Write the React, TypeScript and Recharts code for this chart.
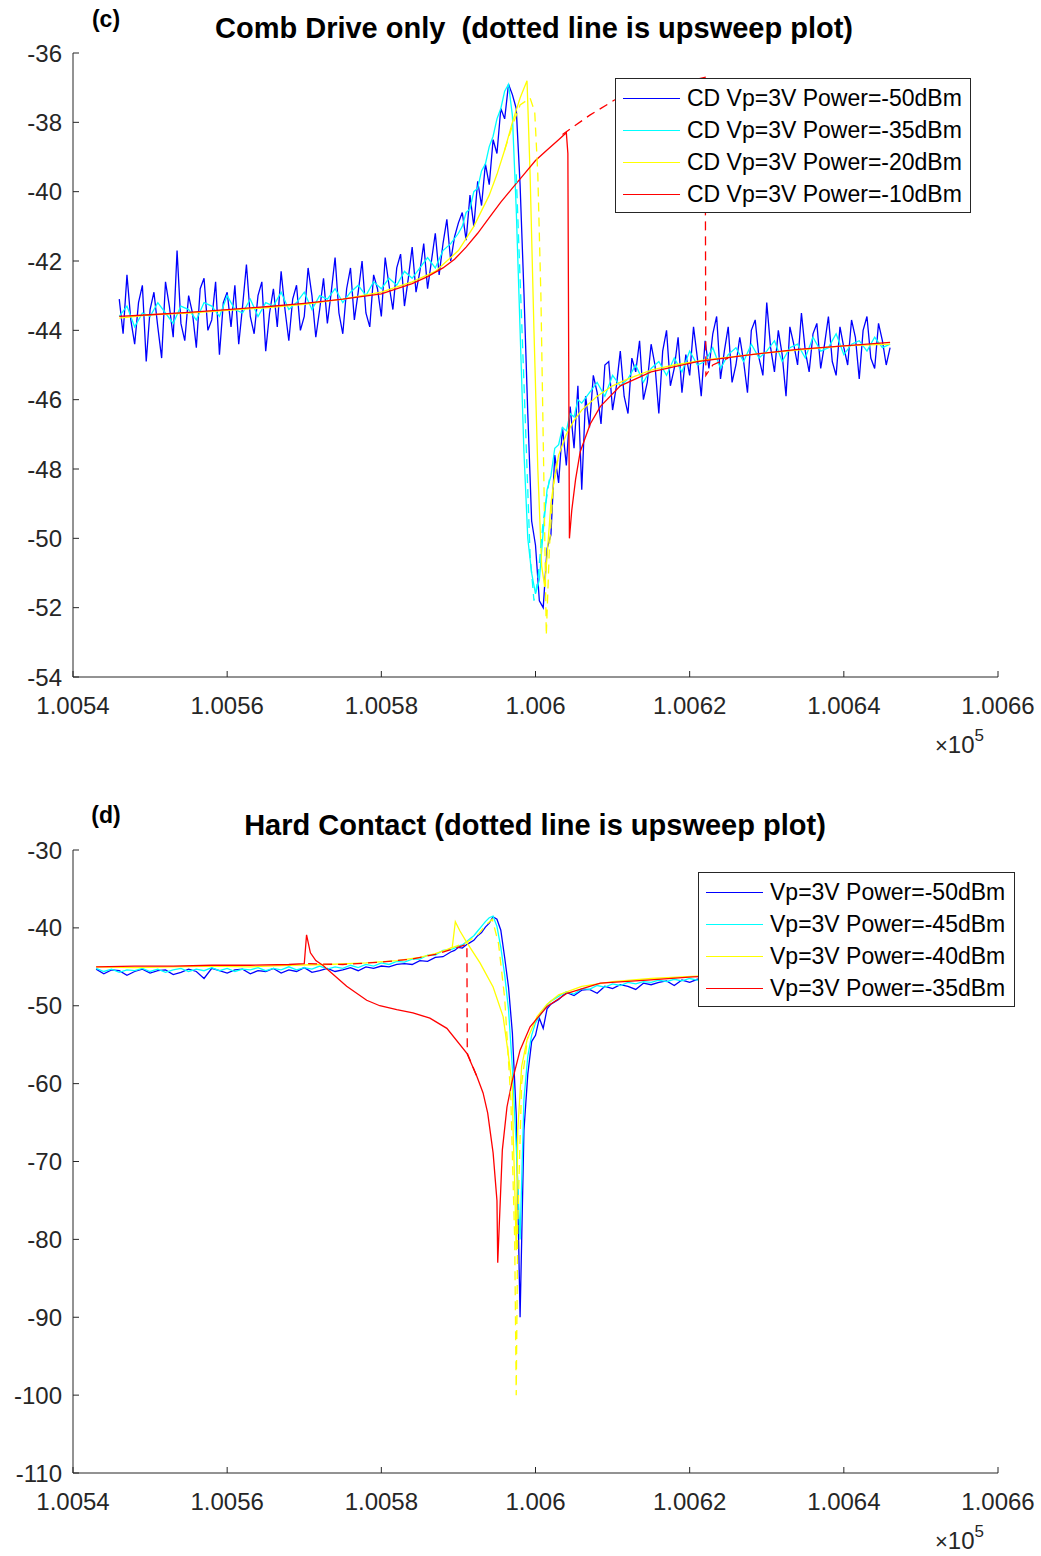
import { Legend, Line, LineChart, XAxis, YAxis } from "recharts";

const FONT = '"Liberation Sans", Arial, Helvetica, sans-serif';
const INK = "#262626";
const traceColors = ["#0000ff", "#00ffff", "#ffff00", "#ff0000"];

const xTicks = [1.0054, 1.0056, 1.0058, 1.006, 1.0062, 1.0064, 1.0066];
const xTickLabels = ["1.0054", "1.0056", "1.0058", "1.006", "1.0062", "1.0064", "1.0066"];
const combYTicks = [-54, -52, -50, -48, -46, -44, -42, -40, -38, -36];
const hardYTicks = [-110, -100, -90, -80, -70, -60, -50, -40, -30];

const combNames = [
  "CD Vp=3V Power=-50dBm",
  "CD Vp=3V Power=-35dBm",
  "CD Vp=3V Power=-20dBm",
  "CD Vp=3V Power=-10dBm",
];
const hardNames = [
  "Vp=3V Power=-50dBm",
  "Vp=3V Power=-45dBm",
  "Vp=3V Power=-40dBm",
  "Vp=3V Power=-35dBm",
];

// (c) comb drive, frequency in Hz (axis shows x 1e5)
const comb50Hz = [
  100546, 100546.5, 100547, 100547.5, 100548, 100548.5, 100549, 100549.5, 100550, 100550.5,
  100551, 100551.5, 100552, 100552.5, 100553, 100553.5, 100554, 100554.5, 100555, 100555.5,
  100556, 100556.5, 100557, 100557.5, 100558, 100558.5, 100559, 100559.5, 100560, 100560.5,
  100561, 100561.5, 100562, 100562.5, 100563, 100563.5, 100564, 100564.5, 100565, 100565.5,
  100566, 100566.5, 100567, 100567.5, 100568, 100568.5, 100569, 100569.5, 100570, 100570.5,
  100571, 100571.5, 100572, 100572.5, 100573, 100573.5, 100574, 100574.5, 100575, 100575.5,
  100576, 100576.5, 100577, 100577.5, 100578, 100578.5, 100579, 100579.5, 100580, 100580.5,
  100581, 100581.5, 100582, 100582.5, 100583, 100583.5, 100584, 100584.5, 100585, 100585.5,
  100586, 100586.5, 100587, 100587.5, 100588, 100588.5, 100589, 100589.5, 100590, 100590.5,
  100591, 100591.5, 100592, 100592.5, 100593, 100593.5, 100594, 100594.5, 100595, 100595.5,
  100596, 100596.5, 100597, 100597.5, 100598, 100598.5, 100599, 100599.5, 100600, 100600.5,
  100601, 100601.5, 100602, 100602.5, 100603, 100603.5, 100604, 100604.5, 100605, 100605.5,
  100606, 100606.5, 100607, 100607.5, 100608, 100608.5, 100609, 100609.5, 100610, 100610.5,
  100611, 100611.5, 100612, 100612.5, 100613, 100613.5, 100614, 100614.5, 100615, 100615.5,
  100616, 100616.5, 100617, 100617.5, 100618, 100618.5, 100619, 100619.5, 100620, 100620.5,
  100621, 100621.5, 100622, 100622.5, 100623, 100623.5, 100624, 100624.5, 100625, 100625.5,
  100626, 100626.5, 100627, 100627.5, 100628, 100628.5, 100629, 100629.5, 100630, 100630.5,
  100631, 100631.5, 100632, 100632.5, 100633, 100633.5, 100634, 100634.5, 100635, 100635.5,
  100636, 100636.5, 100637, 100637.5, 100638, 100638.5, 100639, 100639.5, 100640, 100640.5,
  100641, 100641.5, 100642, 100642.5, 100643, 100643.5, 100644, 100644.5, 100645, 100645.5,
  100646,
];
const comb50 = [
  -43.1, -44.1, -42.4, -43.7, -44.4, -43.2, -42.7, -44.9, -43.4, -42.9,
  -43.9, -44.8, -42.6, -43.3, -44.2, -41.7, -43.8, -44.3, -43.0, -43.5,
  -44.5, -42.8, -42.5, -44.0, -43.7, -42.6, -44.7, -43.2, -42.9, -43.9,
  -42.7, -44.4, -43.3, -42.1, -43.6, -44.1, -43.0, -42.6, -44.6, -43.5,
  -42.8, -43.9, -42.3, -43.4, -44.3, -43.1, -42.7, -44.0, -43.6, -42.2,
  -43.0, -44.2, -43.4, -42.5, -43.8, -42.9, -41.9, -43.5, -44.1, -42.8,
  -42.2, -43.7, -42.9, -42.0, -43.5, -43.9, -42.4, -42.8, -43.6, -41.9,
  -42.7, -43.4, -42.2, -41.8, -43.3, -42.5, -41.6, -42.9, -42.3, -41.5,
  -42.8, -42.0, -41.2, -42.4, -41.5, -40.8, -42.0, -41.3, -40.9, -40.6,
  -41.4, -40.1, -41.0, -39.7, -40.4, -39.2, -39.8, -38.5, -38.9, -37.6,
  -37.9, -36.9, -37.2, -37.6, -39.8, -42.9, -46.4, -49.5, -50.2, -51.8,
  -52.0, -50.3, -49.9, -47.6, -48.4, -46.8, -47.9, -46.2, -47.4, -45.6,
  -48.6, -45.9, -46.8, -45.3, -45.8, -46.7, -45.0, -44.9, -46.3, -45.6,
  -44.6, -45.9, -46.4, -44.8, -45.2, -44.3, -46.0, -45.5, -44.4, -45.0,
  -46.4, -44.6, -44.0, -45.6, -45.1, -44.2, -45.8, -44.7, -45.3, -43.9,
  -44.8, -45.9, -44.3, -45.1, -44.1, -43.6, -45.4, -44.6, -43.9, -45.5,
  -45.0, -44.2, -44.9, -45.8, -44.0, -43.7, -44.8, -45.3, -43.2, -44.5,
  -45.2, -44.0, -44.7, -45.9, -43.9, -44.4, -45.0, -43.5, -44.6, -45.2,
  -44.1, -43.8, -45.1, -44.4, -43.6, -44.9, -45.3, -43.9, -44.5, -45.0,
  -43.7, -44.2, -45.4, -44.0, -43.6, -44.8, -45.1, -43.8, -44.3, -45.0,
  -44.5,
];
const comb35Hz = [
  100546, 100547, 100548, 100549, 100550, 100551, 100552, 100553, 100554, 100555,
  100556, 100557, 100558, 100559, 100560, 100561, 100562, 100563, 100564, 100565,
  100566, 100567, 100568, 100569, 100570, 100571, 100572, 100573, 100574, 100575,
  100576, 100577, 100578, 100579, 100580, 100581, 100582, 100583, 100584, 100585,
  100586, 100587, 100588, 100589, 100590,
  100590.5, 100591, 100591.5, 100592, 100592.5, 100593, 100593.5, 100594, 100594.5, 100595,
  100595.5, 100596, 100596.5, 100597, 100597.5, 100598, 100598.5, 100599, 100599.5, 100600,
  100600.5, 100601, 100601.5, 100602, 100602.5, 100603, 100603.5, 100604, 100604.5, 100605,
  100605.5, 100606,
  100607, 100608, 100609, 100610, 100611, 100612, 100613, 100614, 100615, 100616,
  100617, 100618, 100619, 100620, 100621, 100622, 100623, 100624, 100625, 100626,
  100627, 100628, 100629, 100630, 100631, 100632, 100633, 100634, 100635, 100636,
  100637, 100638, 100639, 100640, 100641, 100642, 100643, 100644, 100645, 100646,
];
const comb35 = [
  -43.6, -43.3, -43.9, -43.5, -43.6, -43.2, -43.5, -43.8, -43.3, -43.4,
  -43.7, -43.2, -43.3, -43.6, -43.0, -43.4, -43.5, -43.1, -43.6, -43.2,
  -43.3, -42.9, -43.4, -43.2, -42.9, -43.4, -43.0, -43.1, -42.8, -43.2,
  -42.9, -42.7, -43.0, -42.6, -42.8, -42.5, -42.7, -42.3, -42.5, -42.2,
  -41.9, -42.2, -41.7, -41.5, -41.2,
  -41.0, -40.6, -40.5, -40.0, -39.9, -39.4, -39.2, -38.7, -38.4, -37.9,
  -37.6, -37.1, -36.9, -37.8, -40.5, -44.0, -47.5, -50.0, -51.0, -51.6,
  -51.2, -49.8, -48.6, -48.2, -47.4, -47.3, -46.8, -46.9, -46.4, -46.5,
  -46.0, -46.1,
  -45.8, -45.5, -45.9, -45.3, -45.6, -45.4, -45.0, -45.5, -45.1, -44.9,
  -45.3, -44.8, -45.2, -44.6, -45.0, -44.9, -44.5, -45.1, -44.7, -44.5,
  -44.9, -44.4, -44.8, -44.6, -44.3, -44.9, -44.5, -44.4, -44.8, -44.2,
  -44.6, -44.5, -44.1, -44.7, -44.4, -44.3, -44.6, -44.2, -44.5, -44.4,
];
const comb20Hz = [
  100546, 100550, 100555, 100560, 100565, 100570, 100575, 100580, 100584, 100587,
  100590, 100592, 100594, 100595, 100596, 100597, 100598, 100598.9, 100599.3, 100599.8,
  100600.3, 100600.8, 100601.2, 100601.6, 100602, 100602.5, 100603, 100604, 100605, 100606,
  100608, 100610, 100612, 100615, 100618, 100622, 100626, 100630, 100635, 100640, 100646,
];
const comb20 = [
  -43.65, -43.55, -43.5, -43.42, -43.35, -43.25, -43.1, -42.9, -42.6, -42.3,
  -41.7, -41.0, -40.1, -39.5, -38.8, -38.0, -37.3, -36.8, -39.5, -44.0,
  -48.0, -50.8, -51.4, -50.2, -49.0, -48.2, -47.6, -47.0, -46.6, -46.3,
  -45.9, -45.6, -45.4, -45.15, -45.0, -44.85, -44.75, -44.65, -44.55, -44.45, -44.4,
];
const comb10Hz = [
  100546, 100550, 100555, 100560, 100565, 100570, 100575, 100580, 100584, 100586,
  100588, 100589.5, 100591, 100592.5, 100594, 100595.5, 100597, 100598.5, 100600, 100601.5,
  100603, 100604, 100604.2, 100604.4, 100604.7, 100605.2, 100605.8, 100607.1, 100608.4, 100611,
  100615, 100621, 100628, 100634, 100640, 100646,
];
const comb10 = [
  -43.6, -43.55, -43.48, -43.4, -43.32, -43.22, -43.1, -42.95, -42.65, -42.45,
  -42.2, -41.95, -41.6, -41.2, -40.75, -40.3, -39.9, -39.5, -39.1, -38.8,
  -38.5, -38.3, -38.9, -50.0, -49.2, -48.3, -47.5, -46.7, -46.2, -45.6,
  -45.2, -44.9, -44.7, -44.55, -44.45, -44.35,
];
// upsweep (dashed)
const comb35UpHz = [100597.5, 100598.5, 100599.3, 100599.8, 100600.3, 100601, 100601.8];
const comb35Up = [-39.5, -45.5, -50.5, -51.8, -51.2, -49.5, -48.3];
const comb20UpHz = [100596, 100597, 100598, 100599.3, 100599.9, 100600.3, 100600.7, 100601.1, 100601.4, 100601.8, 100602.3, 100603];
const comb20Up = [-38.8, -38.1, -37.5, -37.3, -37.7, -39.5, -43.0, -48.5, -52.8, -50.3, -48.5, -47.6];
const comb10UpHz = [100603.5, 100607, 100610.3, 100614, 100618, 100622, 100622.1, 100623, 100625];
const comb10Up = [-38.35, -37.8, -37.35, -37.1, -36.9, -36.7, -45.3, -45.0, -44.8];

// (d) hard contact
const hardHz = [
  100543, 100544, 100545, 100546, 100547, 100548, 100549, 100550, 100551, 100552,
  100553, 100554, 100555, 100556, 100557, 100558, 100559, 100560, 100561, 100562,
  100563, 100564, 100565, 100566, 100567, 100568, 100569, 100570, 100571, 100572,
  100573, 100574, 100575, 100576, 100577, 100578, 100579, 100580, 100581, 100582,
  100583, 100584, 100585, 100586, 100587, 100588, 100589,
  100589.5, 100590, 100590.5, 100591, 100591.5, 100592, 100592.5, 100593, 100593.5, 100594,
  100594.5, 100595, 100595.5, 100596, 100596.5, 100597, 100597.5, 100598, 100598.5, 100599,
  100599.5, 100600, 100600.5, 100601, 100601.5, 100602,
  100603, 100604, 100605, 100606, 100607, 100608, 100609, 100610, 100611, 100612,
  100613, 100614, 100615, 100616, 100617, 100618, 100619, 100620, 100621,
  100623, 100625, 100627, 100629, 100631, 100633, 100635, 100637, 100639, 100641, 100643, 100645,
];
const hard50 = [
  -45.3, -45.9, -45.4, -45.5, -46.1, -45.6, -45.3, -45.8, -45.5, -45.4,
  -46.0, -45.7, -45.3, -45.6, -46.5, -45.2, -45.5, -45.8, -45.4, -45.3,
  -45.9, -45.5, -45.6, -45.2, -45.8, -45.4, -45.6, -45.1, -45.7, -45.5,
  -45.2, -45.6, -45.4, -45.1, -45.5, -45.0, -45.2, -44.9, -45.0, -44.7,
  -44.6, -44.7, -44.2, -44.3, -43.8, -43.7, -43.1,
  -42.9, -42.5, -42.6, -42.2, -41.9, -41.6, -41.0, -40.6, -39.9, -39.4,
  -38.6, -38.9, -40.3, -43.8, -47.6, -53.5, -64.0, -90.0, -66.0, -58.8,
  -54.6, -53.8, -51.6, -52.9, -50.4, -49.8,
  -49.2, -48.3, -48.7, -48.0, -47.9, -48.4, -47.5, -47.8, -47.3, -47.5,
  -47.9, -47.1, -47.3, -47.0, -46.8, -47.4, -46.7, -47.0, -46.6,
  -46.6, -46.9, -46.4, -46.7, -46.3, -46.6, -46.2, -46.5, -46.1, -46.4, -46.0, -46.3,
];
const hard45 = [
  -45.2, -45.6, -45.3, -45.7, -45.4, -45.5, -45.2, -45.6, -45.3, -45.7,
  -45.4, -45.2, -45.6, -45.3, -45.5, -45.1, -45.5, -45.2, -45.6, -45.3,
  -45.4, -45.1, -45.5, -45.2, -45.4, -45.0, -45.4, -45.1, -45.3, -44.9,
  -45.3, -45.0, -45.2, -44.8, -45.1, -44.7, -44.9, -44.5, -44.7, -44.3,
  -44.4, -44.0, -44.0, -43.5, -43.5, -42.9, -42.8,
  -42.6, -42.3, -42.2, -41.8, -41.4, -41.0, -40.4, -39.8, -39.2, -38.7,
  -38.5, -39.8, -42.5, -46.0, -50.5, -58.0, -68.0, -80.0, -62.0, -56.5,
  -53.8, -52.2, -51.4, -50.6, -49.9, -49.4,
  -48.8, -48.2, -48.5, -47.8, -47.9, -47.4, -47.6, -47.2, -47.4, -47.0,
  -47.2, -46.9, -47.0, -46.7, -46.9, -46.6, -46.8, -46.5, -46.7,
  -46.5, -46.6, -46.3, -46.5, -46.2, -46.4, -46.1, -46.3, -46.0, -46.2, -45.9, -46.1,
];
const hard40Hz = [
  100543, 100548, 100553, 100558, 100563, 100568, 100573, 100578, 100582, 100585,
  100587, 100588.5, 100589.2, 100589.6, 100590.2, 100591.1, 100592.8, 100594.5, 100595.8, 100596.4,
  100597, 100597.1, 100597.3, 100597.5, 100597.7, 100598.2, 100598.9, 100600.2, 100601.5, 100603,
  100606, 100610, 100615, 100621, 100630, 100638, 100645,
];
const hard40 = [
  -45.0, -45.1, -45.0, -44.9, -45.0, -44.8, -44.7, -44.5, -44.2, -43.8,
  -43.3, -42.8, -42.5, -39.2, -40.4, -41.9, -44.5, -47.6, -51.4, -55.7,
  -60.4, -66.3, -72.8, -81.4, -66.0, -57.8, -54.4, -51.4, -49.8, -48.6,
  -47.5, -46.9, -46.5, -46.2, -46.0, -45.9, -45.8,
];
const hard35Hz = [
  100543, 100548, 100553, 100558, 100563, 100568, 100570, 100570.3, 100570.8, 100571.5,
  100572.4, 100575.5, 100578.1, 100579.8, 100582, 100584.1, 100586.3, 100588.5, 100591.1, 100592.4,
  100593.2, 100593.8, 100594.5, 100595, 100595.1, 100595.7, 100596.3, 100596.9, 100598, 100599.3,
  100601.5, 100604.1, 100608.4, 100614.5, 100620.4, 100628, 100636, 100645,
];
const hard35 = [
  -45.0, -44.9, -44.9, -44.8, -44.8, -44.7, -44.6, -40.9, -43.2, -44.2,
  -44.8, -47.5, -49.3, -50.0, -50.5, -50.9, -51.6, -52.9, -56.1, -59.1,
  -61.2, -63.8, -68.9, -75.0, -83.0, -68.5, -63.0, -60.0, -55.7, -52.7,
  -50.1, -48.4, -47.1, -46.7, -46.3, -46.0, -45.8, -45.6,
];
// upsweep (dashed)
const hard40UpHz = [100589, 100591, 100592.5, 100593.6, 100594.4, 100595.2, 100596, 100596.8, 100597.3, 100597.5, 100597.7, 100598.2, 100599];
const hard40Up = [-42.6, -41.9, -40.9, -39.6, -38.9, -42.0, -49.0, -62.0, -80.0, -100.0, -78.0, -60.0, -54.0];
const hard35UpHz = [100570.5, 100575, 100580, 100584, 100587, 100589, 100591.1, 100591.15, 100592.4];
const hard35Up = [-44.6, -44.7, -44.4, -44.0, -43.4, -42.8, -42.1, -56.1, -59.1];

const toPoints = (hz: number[], db: number[]) => hz.map((f, i) => ({ f: f / 1e5, db: db[i] }));

const fmtX = (v: number) => {
  const i = xTicks.findIndex((t) => Math.abs(t - v) < 1e-9);
  return i >= 0 ? xTickLabels[i] : String(v);
};

type Trace = { hz: number[]; db: number[]; color: string; dashed?: boolean };

const LegendBox = ({ names, width }: { names: string[]; width: number }) => (
  <div
    style={{
      boxSizing: "border-box",
      width,
      background: "#fff",
      border: `1px solid ${INK}`,
      padding: "3px 0 2px 7px",
      fontFamily: FONT,
      fontSize: 23,
      color: "#000",
    }}
  >
    {names.map((n, i) => (
      <div key={n} style={{ display: "flex", alignItems: "center", height: 32, whiteSpace: "nowrap" }}>
        <span style={{ width: 57, borderTop: `1.5px solid ${traceColors[i]}`, marginRight: 7 }} />
        <span>{n}</span>
      </div>
    ))}
  </div>
);

interface PanelProps {
  top: number;
  height: number;
  plotHeight: number;
  yTicks: number[];
  traces: Trace[];
  names: string[];
  legendLeft: number;
  legendTop: number;
  legendWidth: number;
}

const Panel = ({ top, height, plotHeight, yTicks, traces, names, legendLeft, legendTop, legendWidth }: PanelProps) => (
  <div style={{ position: "absolute", left: 0, top }}>
    <LineChart
      width={1041}
      height={height}
      margin={{ top: 53, right: 43, bottom: height - 53 - plotHeight - 40, left: 0 }}
    >
      <XAxis
        dataKey="f"
        type="number"
        domain={[xTicks[0], xTicks[xTicks.length - 1]]}
        ticks={xTicks}
        tickFormatter={fmtX}
        interval={0}
        allowDataOverflow
        height={40}
        tickSize={-6}
        tickMargin={26}
        stroke={INK}
        tick={{ fill: INK, fontSize: 24, fontFamily: FONT }}
      />
      <YAxis
        type="number"
        domain={[yTicks[0], yTicks[yTicks.length - 1]]}
        ticks={yTicks}
        interval={0}
        allowDataOverflow
        width={73}
        tickSize={-6}
        tickMargin={17}
        stroke={INK}
        tick={{ fill: INK, fontSize: 24, fontFamily: FONT }}
      />
      {traces.map((t, i) => (
        <Line
          key={i}
          data={toPoints(t.hz, t.db)}
          dataKey="db"
          type="linear"
          stroke={t.color}
          strokeWidth={1.3}
          strokeDasharray={t.dashed ? "9 6" : undefined}
          dot={false}
          activeDot={false}
          isAnimationActive={false}
        />
      ))}
      <Legend
        layout="vertical"
        align="center"
        verticalAlign="middle"
        wrapperStyle={{ left: legendLeft, top: legendTop, width: legendWidth }}
        content={() => <LegendBox names={names} width={legendWidth} />}
      />
    </LineChart>
  </div>
);

const combTraces: Trace[] = [
  { hz: comb50Hz, db: comb50, color: traceColors[0] },
  { hz: comb35Hz, db: comb35, color: traceColors[1] },
  { hz: comb20Hz, db: comb20, color: traceColors[2] },
  { hz: comb10Hz, db: comb10, color: traceColors[3] },
  { hz: comb35UpHz, db: comb35Up, color: traceColors[1], dashed: true },
  { hz: comb20UpHz, db: comb20Up, color: traceColors[2], dashed: true },
  { hz: comb10UpHz, db: comb10Up, color: traceColors[3], dashed: true },
];

const hardTraces: Trace[] = [
  { hz: hardHz, db: hard50, color: traceColors[0] },
  { hz: hardHz, db: hard45, color: traceColors[1] },
  { hz: hard40Hz, db: hard40, color: traceColors[2] },
  { hz: hard35Hz, db: hard35, color: traceColors[3] },
  { hz: hard40UpHz, db: hard40Up, color: traceColors[2], dashed: true },
  { hz: hard35UpHz, db: hard35Up, color: traceColors[3], dashed: true },
];

export default function App() {
  return (
    <div style={{ position: "absolute", left: 0, top: 0, width: 1041, height: 1556, background: "#fff", fontFamily: FONT }}>
      <Panel
        top={0}
        height={780}
        plotHeight={624}
        yTicks={combYTicks}
        traces={combTraces}
        names={combNames}
        legendLeft={615}
        legendTop={78}
        legendWidth={356}
      />
      <Panel
        top={797}
        height={759}
        plotHeight={623}
        yTicks={hardYTicks}
        traces={hardTraces}
        names={hardNames}
        legendLeft={698}
        legendTop={75}
        legendWidth={317}
      />
      <svg width={1041} height={1556} style={{ position: "absolute", left: 0, top: 0, pointerEvents: "none" }}>
        <g fontFamily={FONT} fill="#000">
          <text x={106} y={27} textAnchor="middle" fontWeight="bold" fontSize={23}>(c)</text>
          <text x={534} y={38} textAnchor="middle" fontWeight="bold" fontSize={29} style={{ whiteSpace: "pre" }}>
            Comb Drive only  (dotted line is upsweep plot)
          </text>
          <text x={106} y={823} textAnchor="middle" fontWeight="bold" fontSize={23}>(d)</text>
          <text x={535} y={835} textAnchor="middle" fontWeight="bold" fontSize={29}>
            Hard Contact (dotted line is upsweep plot)
          </text>
        </g>
        <g fontFamily={FONT} fill={INK}>
          <text x={935} y={753} fontSize={24}>
            <tspan fontSize={22}>×</tspan>10<tspan dy={-12} fontSize={17}>5</tspan>
          </text>
          <text x={935} y={1549} fontSize={24}>
            <tspan fontSize={22}>×</tspan>10<tspan dy={-12} fontSize={17}>5</tspan>
          </text>
        </g>
      </svg>
    </div>
  );
}
